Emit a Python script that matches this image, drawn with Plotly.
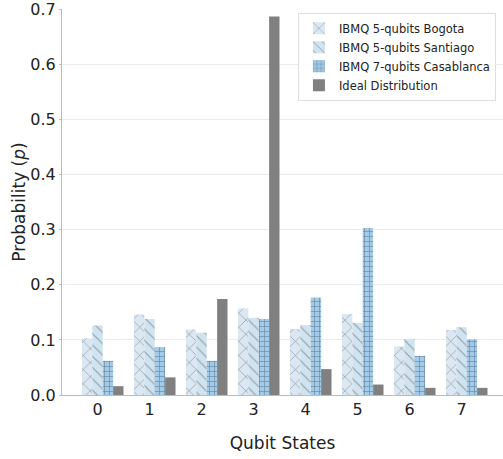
import plotly.graph_objects as go

states = [0, 1, 2, 3, 4, 5, 6, 7]
bogota = [0.103, 0.146, 0.119, 0.157, 0.120, 0.147, 0.088, 0.118]
santiago = [0.126, 0.138, 0.113, 0.140, 0.127, 0.131, 0.102, 0.123]
casablanca = [0.062, 0.087, 0.062, 0.138, 0.177, 0.303, 0.071, 0.101]
ideal = [0.016, 0.032, 0.174, 0.687, 0.047, 0.019, 0.013, 0.013]

names = ["IBMQ 5-qubits Bogota", "IBMQ 5-qubits Santiago",
         "IBMQ 7-qubits Casablanca", "Ideal Distribution"]
series = [bogota, santiago, casablanca, ideal]
fills = ["#dbe8f3", "#cfe3f0", "#a3cbe8", "#808080"]
shapes = ["x", "\\", "+", ""]
sizes = [10, 8, 5, 0]
solid = [0.14, 0.14, 0.22, 0]
fgs = ["#555555", "#555555", "#1f3550", "#808080"]

w = 0.2
fig = go.Figure()
for i, (nm, ys) in enumerate(zip(names, series)):
    marker = dict(color=fills[i], line=dict(width=0))
    if shapes[i]:
        marker["pattern"] = dict(shape=shapes[i], fgcolor=fgs[i], bgcolor=fills[i],
                                 size=sizes[i], solidity=solid[i], fillmode="overlay")
    fig.add_trace(go.Bar(x=states, y=ys, name=nm, width=w,
                         offset=(i - 1) * w - w / 2, marker=marker))

fig.update_layout(
    barmode="overlay",
    width=503, height=459,
    margin=dict(l=62, r=0, t=9, b=64, autoexpand=False),
    plot_bgcolor="white", paper_bgcolor="white",
    font=dict(family="DejaVu Sans", color="#222222"),
    legend=dict(x=0.535, y=0.99, xanchor="left", yanchor="top",
                bgcolor="rgba(255,255,255,0.9)", bordercolor="#dddddd", borderwidth=1,
                font=dict(size=11.5), tracegroupgap=2, itemwidth=30),
    showlegend=True,
)
fig.update_xaxes(range=[-0.683, 7.798], tickmode="array", tickvals=states,
                 ticktext=[str(s) for s in states], tickfont=dict(size=16),
                 showgrid=False, showline=True, linecolor="#bbbbbb", linewidth=1,
                 ticks="", zeroline=False, automargin=False,
                 title=dict(text="Qubit States", font=dict(size=17), standoff=18))
fig.update_yaxes(range=[0, 0.7005], tickmode="array",
                 tickvals=[0, 0.1, 0.2, 0.3, 0.4, 0.5, 0.6, 0.7],
                 ticktext=["0.0", "0.1", "0.2", "0.3", "0.4", "0.5", "0.6", "0.7"],
                 tickfont=dict(size=16), ticklabeloverflow="allow",
                 showgrid=True, gridcolor="#ebebeb", gridwidth=1,
                 showline=True, linecolor="#bbbbbb", linewidth=1,
                 ticks="outside", ticklen=2, tickcolor="#bbbbbb", zeroline=False,
                 automargin=False,
                 title=dict(text="Probability (<i>p</i>)", font=dict(size=17), standoff=0))

fig.write_html("out.html")
